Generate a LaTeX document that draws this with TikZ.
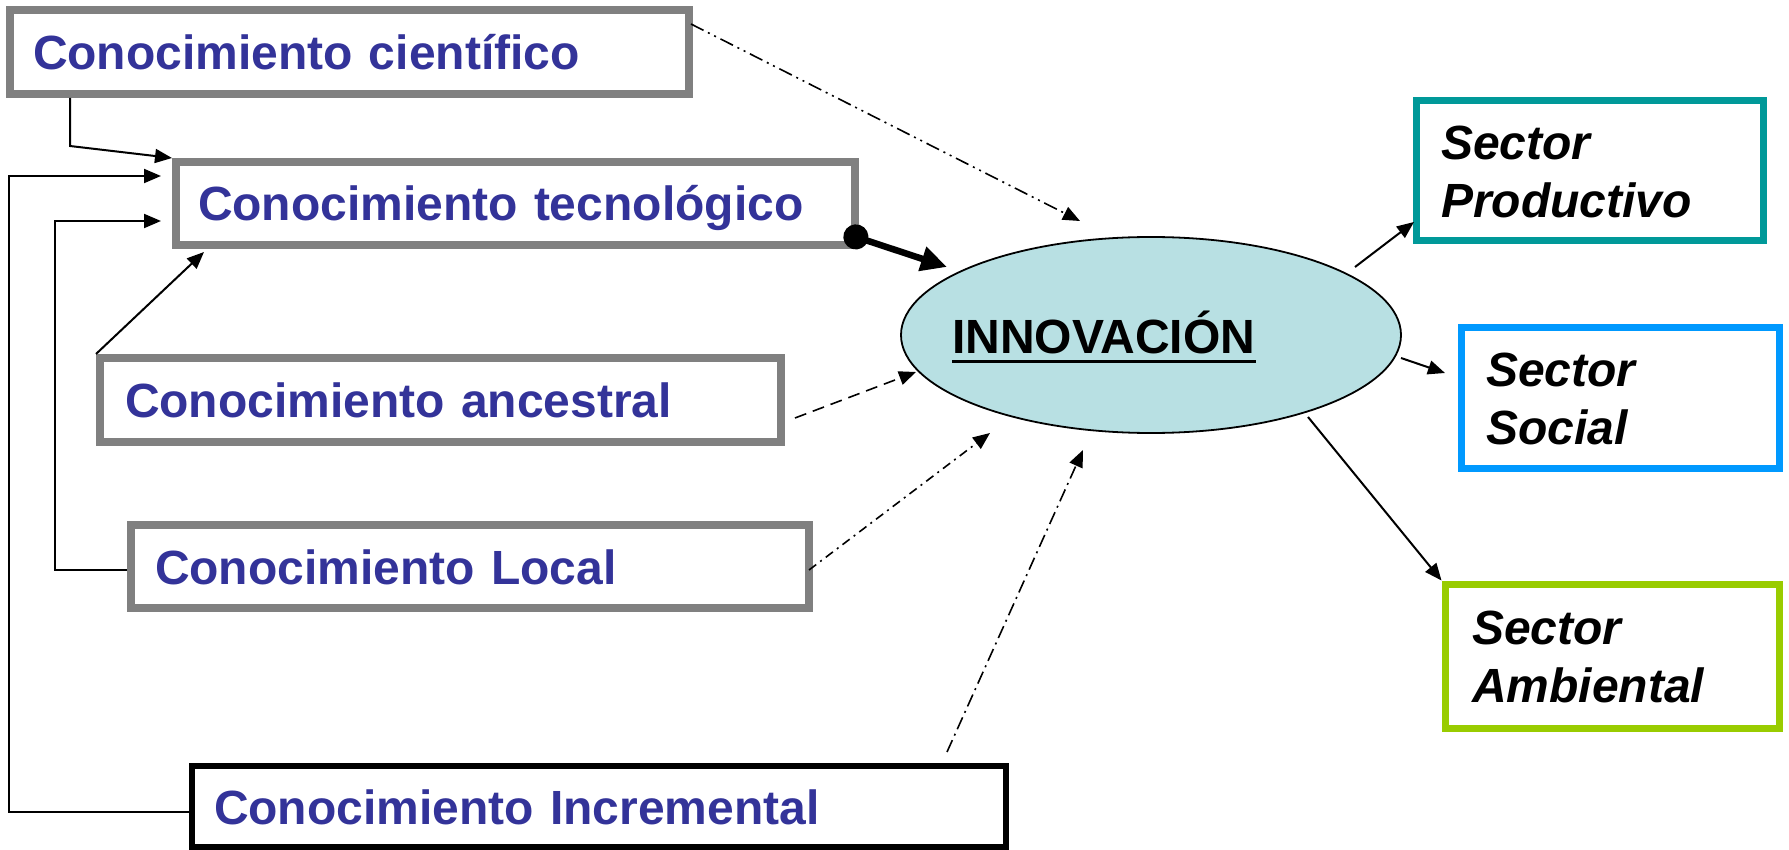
\documentclass[tikz,border=0pt]{standalone}
\usepackage{fontspec}
\setmainfont{Liberation Sans}
\usetikzlibrary{arrows.meta,calc,shapes.geometric}
\definecolor{kblue}{HTML}{333399}
\definecolor{kgray}{HTML}{808080}
\definecolor{kteal}{HTML}{009999}
\definecolor{ksky}{HTML}{0099FF}
\definecolor{klime}{HTML}{99CC00}
\definecolor{kfill}{HTML}{B8E0E3}
\newcommand{\bigfont}{\fontsize{48pt}{58pt}\selectfont\bfseries}
\tikzset{
  kbox/.style={draw=kgray, line width=8pt, rectangle, inner ysep=0pt, text height=35pt, text depth=0pt,
    align=left, font=\bigfont, text=kblue},
  sbox/.style={draw=#1, line width=7pt, rectangle, inner ysep=0pt, text height=35pt, text depth=58pt,
    align=left, font=\bigfont\itshape, text=black},
  conn/.style={line width=2pt, -{Triangle[length=17pt,width=14pt]}},
  dconn/.style={line width=1.6pt, -{Triangle[length=17pt,width=14pt]}},
}
\begin{document}
\begin{tikzpicture}[x=1pt,y=-1pt]
\useasboundingbox (0,0) rectangle (1789,850);
% knowledge boxes
\node[kbox, minimum width=679pt, minimum height=84pt, inner xsep=23pt, text width=633pt] (cien) at (349.5,52) {Conocimiento científico};
\node[kbox, minimum width=679pt, minimum height=83pt, inner xsep=22pt, text width=635pt] (tec) at (515.5,203.5) {Conocimiento tecnológico};
\node[kbox, minimum width=681pt, minimum height=84pt, inner xsep=25pt, text width=631pt] (anc) at (440.5,400) {Conocimiento ancestral};
\node[kbox, minimum width=678pt, minimum height=83pt, inner xsep=24pt, text width=630pt] (loc) at (470,566.5) {Conocimiento Local};
\node[kbox, draw=black, line width=6pt, minimum width=814pt, minimum height=81pt, inner xsep=22pt, text width=770pt] (inc) at (599,806.5) {Conocimiento Incremental};
% innovation
\node[ellipse, draw=black, line width=1.8pt, fill=kfill, minimum width=500pt, minimum height=196pt, inner sep=0pt] (inn) at (1151,335) {};
\node[font=\bigfont, anchor=base west, inner sep=0pt] (innt) at (952,353) {INNOVACIÓN};
\draw[line width=3pt] ($(innt.base west)+(0,9)$) -- ($(innt.base east)+(0,9)$);
% sector boxes
\node[sbox=kteal, minimum width=347pt, minimum height=140pt, inner xsep=25pt, text width=297pt] (prod) at (1589.5,171) {Sector\\Productivo};
\node[sbox=ksky, minimum width=318pt, minimum height=140pt, inner xsep=25pt, text width=268pt] (soc) at (1620,398) {Sector\\Social};
\node[sbox=klime, minimum width=334pt, minimum height=144pt, inner xsep=27pt, text width=280pt] (amb) at (1612,656) {Sector\\Ambiental};
% coordinates
\coordinate (b1) at (70,146);
\coordinate (b2) at (9,176);
\coordinate (b2b) at (9,812);
\coordinate (t1) at (161,176);
\coordinate (l1) at (55,221);
\coordinate (l2) at (55,570);
\coordinate (t2) at (161,221);
\coordinate (t3) at (204,252);
\coordinate (s1) at (691,24);
\coordinate (e1) at (1080,221);
\coordinate (s2) at (844,233);
\coordinate (e2) at (947,267);
\coordinate (s3) at (795,418);
\coordinate (e3) at (916,372);
\coordinate (s4) at (809,570);
\coordinate (e4) at (990,433);
\coordinate (s5) at (947,752);
\coordinate (e5) at (1083,450);
\coordinate (s6) at (1355,267);
\coordinate (e6) at (1414,222);
\coordinate (s7) at (1401,358);
\coordinate (e7) at (1445,373);
\coordinate (s8) at (1308,417);
% solid feedback connectors
\draw[conn] (cien.south -| b1) -- (b1) -- (tec.north west);
\draw[conn] (b2b -| inc.west) -- (b2b) -- (b2) -- (t1);
\draw[conn] (l2 -| loc.west) -- (l2) -- (l1) -- (t2);
\draw[conn] (anc.north west) -- (t3);
% into innovation
\draw[dconn, dash pattern=on 14pt off 5pt on 2pt off 5pt on 2pt off 5pt] (s1) -- (e1);
\draw[line width=6.5pt, {Circle[length=25pt]}-{Triangle[length=26pt,width=24pt]}] (s2) -- (e2);
\draw[dconn, dash pattern=on 12pt off 7pt] (s3) -- (e3);
\draw[dconn, dash pattern=on 9pt off 5pt on 2pt off 5pt] (s4) -- (e4);
\draw[dconn, dash pattern=on 13pt off 5pt on 2pt off 5pt] (s5) -- (e5);
% out of innovation
\draw[conn] (s6) -- (e6);
\draw[conn] (s7) -- (e7);
\draw[conn] (s8) -- (amb.north west);
\end{tikzpicture}
\end{document}
